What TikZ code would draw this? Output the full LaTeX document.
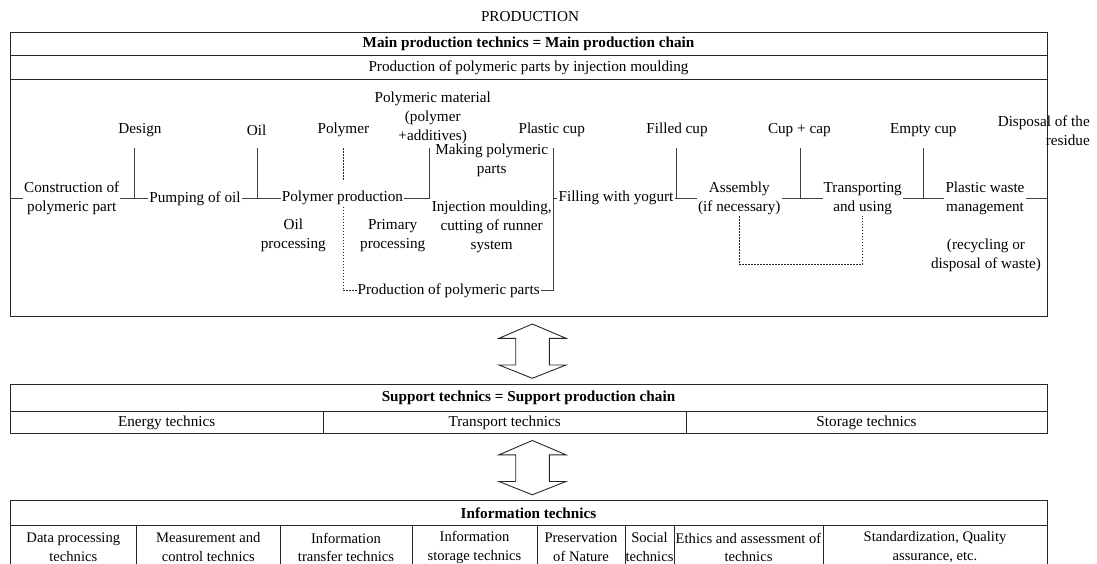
\documentclass[tikz,border=0pt]{standalone}
\usepackage{fontspec}
\setmainfont{Liberation Serif}
\begin{document}
\begin{tikzpicture}[x=1pt,y=-1pt,
  every node/.style={font=\fontsize{15.2}{19}\selectfont, inner sep=1pt, align=center},
  box/.style={draw=black!85, line width=0.9pt},
  ln/.style={draw=black!75, line width=0.8pt},
  dl/.style={draw=black!85, line width=0.7pt, dash pattern=on 1.6pt off 1.4pt},
  bt/.style={font=\fontsize{15.2}{19}\selectfont\bfseries},
  cell/.style={font=\fontsize{14.6}{18.5}\selectfont},
  dblarrow/.pic={\draw[box, line join=miter] (0,0) -- (33.7,14.3) -- (17,14.3) -- (17,41) -- (33.7,41) -- (0,54.3) -- (-33.3,41) -- (-16.6,41) -- (-16.6,14.3) -- (-33.3,14.3) -- cycle;}]
\useasboundingbox (0,0) rectangle (1097,564);

% ---------- main production box ----------
\node (prod) at (530,17) {PRODUCTION};
\draw[box] (10,32.3) rectangle (1047,316);
\draw[box] (10,55.7) -- (1047,55.7);
\draw[box] (10,79.3) -- (1047,79.3);
\node[bt] (mainT) at (528.5,44) {Main production technics = Main production chain};
\node (mainS) at (528.5,67.5) {Production of polymeric parts by injection moulding};

% chain nodes
\coordinate (c0) at (10,198.3);
\coordinate (cE) at (1047,198.3);
\node (n1) at (71.7,198.3) {Construction of\\polymeric part};
\node (n2) at (195,198.3) {Pumping of oil};
\node (n3) at (342.5,198.3) {Polymer production};
\node (n4) at (448.7,290.7) {Production of polymeric parts};
\node (n5) at (616,198.3) {Filling with yogurt};
\node (n6) at (739.3,198.3) {Assembly\\(if necessary)};
\node (n7) at (862.7,198.3) {Transporting\\and using};
\node (n8) at (985,198.3) {Plastic waste\\management};

% input labels
\node (lDesign) at (140,130) {Design};
\node (lOil) at (256.7,130) {Oil};
\node (lPoly) at (343.3,130) {Polymer};
\node (lMat) at (432.7,118) {Polymeric material\\(polymer\\+additives)};
\node (lCup) at (551.7,130) {Plastic cup};
\node (lFilled) at (677,130) {Filled cup};
\node (lCap) at (799.3,130) {Cup + cap};
\node (lEmpty) at (923.3,130) {Empty cup};
\node[align=right, anchor=east] (lDisp) at (1091,131) {Disposal of the\\residue};

% descriptive labels
\node (tOil) at (293.3,235.5) {Oil\\processing};
\node (tPrim) at (392.7,236) {Primary\\processing};
\node (tMake) at (491.7,160.5) {Making polymeric\\parts};
\node (tInj) at (491.7,226.7) {Injection moulding,\\cutting of runner\\system};
\node (tRec) at (986,255) {(recycling or\\disposal of waste)};

% junction coordinates
\coordinate (j1t) at (134,148.3);   \coordinate (j1) at (134,198.3);
\coordinate (j2t) at (257.3,148.3); \coordinate (j2) at (257.3,198.3);
\coordinate (j3t) at (429.3,148.3); \coordinate (j3) at (429.3,198.3);
\coordinate (j4t) at (553.3,148.3); \coordinate (j4) at (553.3,198.3); \coordinate (j4b) at (553.3,290.7);
\coordinate (j5t) at (676.7,148.3); \coordinate (j5) at (676.7,198.3);
\coordinate (j6t) at (800,148.3);   \coordinate (j6) at (800,198.3);
\coordinate (j7t) at (923.3,148.3); \coordinate (j7) at (923.3,198.3);
\coordinate (pdT) at (343.3,148.3); \coordinate (pdM) at (343.3,180);
\coordinate (pdB) at (343.3,206.7); \coordinate (pdC) at (343.3,290.7);

% solid chain connectors
\draw[ln] (c0) -- (n1.west);
\draw[ln] (n1.east) -- (n2.west);
\draw[ln] (j1t) -- (j1);
\draw[ln] (n2.east) -- (n3.west);
\draw[ln] (j2t) -- (j2);
\draw[ln] (n3.east) -- (j3) -- (j3t);
\draw[ln] (n4.east) -- (j4b) -- (j4t);
\draw[ln] (j4) -- (n5.west);
\draw[ln] (n5.east) -- (n6.west);
\draw[ln] (j5t) -- (j5);
\draw[ln] (n6.east) -- (n7.west);
\draw[ln] (j6t) -- (j6);
\draw[ln] (n7.east) -- (n8.west);
\draw[ln] (j7t) -- (j7);
\draw[ln] (n8.east) -- (cE);

% dashed connectors
\draw[dl] (pdT) -- (pdM);
\draw[dl] (pdB) -- (pdC) -- (n4.west);
\draw[dl] (n6.south) -- ++(0,48) -| (n7.south);

% ---------- arrows ----------
\coordinate (a1) at (532.3,324);
\coordinate (a2) at (532.3,440.5);
\pic at (a1) {dblarrow};
\pic at (a2) {dblarrow};

% ---------- support box ----------
\draw[box] (10,384.3) rectangle (1047,433.3);
\draw[box] (10,411) -- (1047,411);
\draw[box] (323.3,411) -- (323.3,433.3);
\draw[box] (686,411) -- (686,433.3);
\node[bt] (supT) at (528.5,397.6) {Support technics = Support production chain};
\node (s1) at (166.7,422.6) {Energy technics};
\node (s2) at (504.7,422.6) {Transport technics};
\node (s3) at (866.5,422.6) {Storage technics};

% ---------- information box ----------
\draw[box] (10,566) -- (10,500.7) -- (1047,500.7) -- (1047,566);
\draw[box] (10,525.7) -- (1047,525.7);
\foreach \x in {136.7,280,412,537,625,674,823} \draw[box] (\x,525.7) -- (\x,566);
\node[bt] (infT) at (528.5,513.2) {Information technics};
\node[cell] (i1) at (73.3,547.2) {Data processing\\technics};
\node[cell] (i2) at (208.3,547.2) {Measurement and\\control technics};
\node[cell] (i3) at (346,547.2) {Information\\transfer technics};
\node[cell] (i4) at (474.5,547.2) {Information\\storage technics};
\node[cell] (i5) at (581,547.2) {Preservation\\of Nature};
\node[cell] (i6) at (649.5,547.2) {Social\\technics};
\node[cell] (i7) at (748.5,547.2) {Ethics and assessment of\\technics};
\node[cell] (i8) at (935,547.2) {Standardization, Quality\\assurance, etc.};
\end{tikzpicture}
\end{document}
